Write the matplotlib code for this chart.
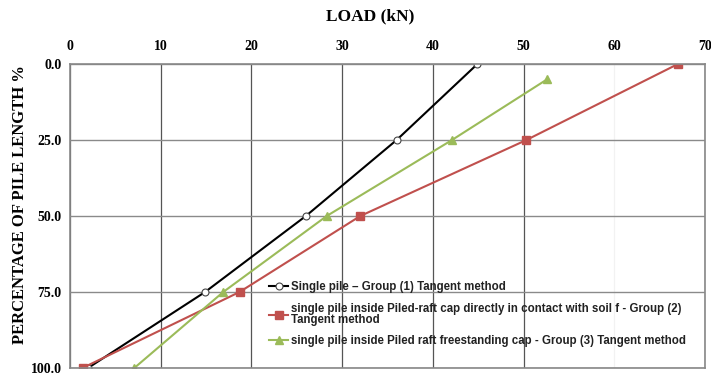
import matplotlib.pyplot as plt

# load (kN) at each depth along the pile, % of pile length
depth_pct = [0, 25, 50, 75, 100]
load_single = [44.9, 36.0, 26.0, 14.9, 2.0]
load_raft_contact = [67.0, 50.3, 32.0, 18.7, 1.4]
depth_freestanding = [5, 25, 50, 75, 100]
load_freestanding = [52.6, 42.1, 28.3, 16.9, 7.1]

labels = [
    "Single pile \u2013 Group (1) Tangent method",
    "single pile inside Piled-raft cap directly in contact with soil f - Group (2)\nTangent method",
    "single pile inside Piled raft freestanding cap - Group (3) Tangent method",
]

serif = ["Liberation Serif", "DejaVu Serif"]
sans = ["Liberation Sans", "DejaVu Sans"]

fig = plt.figure(figsize=(7.11, 3.75), dpi=100)
ax = fig.add_axes([0.0985, 0.019, 0.893, 0.810])

ax.plot(load_single, depth_pct, color="black", lw=1.5, marker="o", ms=5,
        mfc="white", mec="#444444", mew=0.8, label=labels[0])
ax.plot(load_raft_contact, depth_pct, color="#C0504D", lw=1.5, marker="s", ms=6,
        label=labels[1])
ax.plot(load_freestanding, depth_freestanding, color="#9BBB59", lw=1.5, marker="^",
        ms=6, label=labels[2])

ax.set_xlim(0, 70)
ax.set_ylim(100, 0)
ax.set_xticks(range(0, 71, 10))
ax.set_yticks(depth_pct)
ax.set_yticklabels([f"{v:.1f}" for v in depth_pct])
ax.xaxis.tick_top()
ax.xaxis.set_label_position("top")
ax.tick_params(length=0, pad=8)
ax.tick_params(axis="y", pad=6)
for lab in ax.get_xticklabels() + ax.get_yticklabels():
    lab.set_family(serif)
    lab.set_fontweight("bold")
    lab.set_fontsize(10)

# gridlines: horizontal lighter than vertical, the 60 kN line barely visible
ax.grid(True, axis="y", color="#8a8a8a", lw=1.0)
ax.grid(True, axis="x", color="#555555", lw=0.9)
ax.get_xgridlines()[6].set_color("#f2f2f2")
ax.set_axisbelow(True)
for sp in ax.spines.values():
    sp.set_color("#888888")
    sp.set_linewidth(1.2)

fig.text(0.521, 0.955, "LOAD (kN)", ha="center", va="center",
         family=serif, fontweight="bold", fontsize=12.5)
fig.text(0.028, 0.455, "PERCENTAGE OF PILE LENGTH %", ha="center", va="center",
         rotation=90, family=serif, fontweight="bold", fontsize=12)

leg = ax.legend(loc="upper left", bbox_to_anchor=(0.313, 0.285), frameon=False,
                prop={"family": sans, "weight": "bold", "size": 8.3},
                handlelength=1.7, handletextpad=0.2, labelspacing=0.8,
                borderpad=0, borderaxespad=0)
for t in leg.get_texts():
    t.set_color("#222222")
    t.set_linespacing(0.95)

fig.savefig("out.png", dpi=100)
